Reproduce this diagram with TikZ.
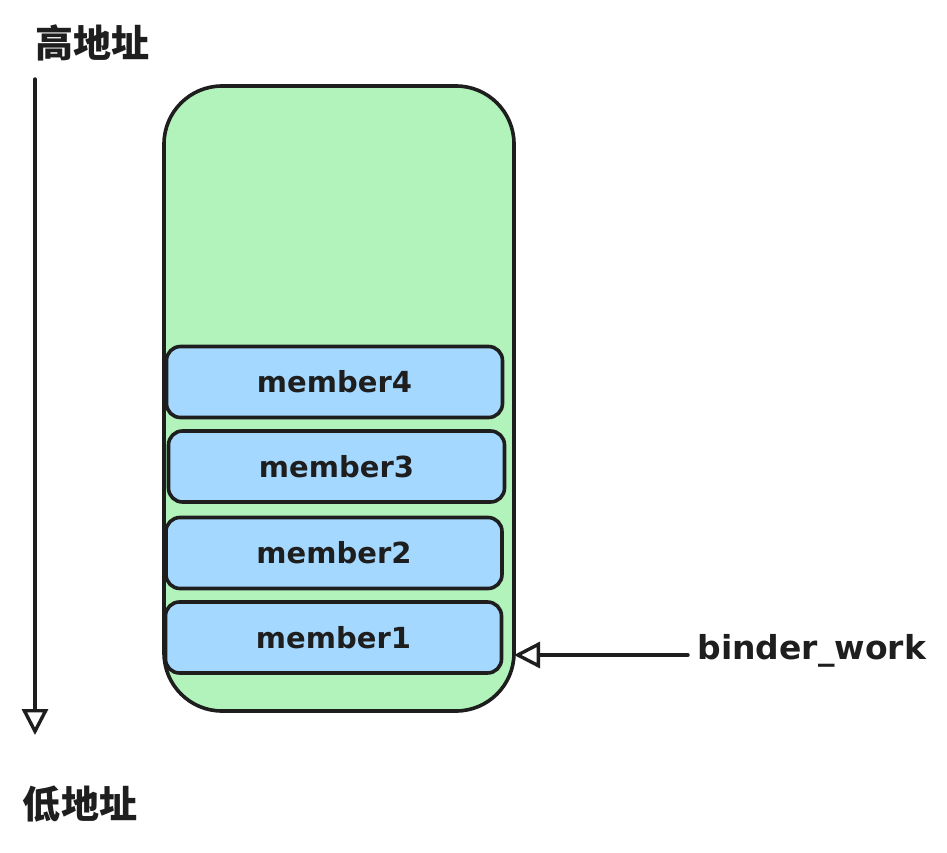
\documentclass[tikz,border=0pt]{standalone}
\usepackage{fontspec}
\setmainfont{DejaVu Sans}
\newfontfamily\cjk{Noto Sans CJK SC}
\usetikzlibrary{arrows.meta}

\definecolor{ink}{HTML}{1E1E1E}
\definecolor{frameg}{HTML}{B2F2BB}
\definecolor{memb}{HTML}{A5D8FF}

\tikzset{
  framebox/.style={draw=ink, fill=frameg, line width=3.6pt, rounded corners=58pt,
    minimum width=350pt, minimum height=625pt, inner sep=0pt},
  memberbox/.style={draw=ink, fill=memb, line width=3.6pt, rounded corners=14pt,
    minimum width=336pt, minimum height=71pt, inner sep=0pt,
    font=\bfseries\fontsize{29}{31}\selectfont, text=ink},
  addrlabel/.style={font=\cjk\bfseries\fontsize{38}{40}\selectfont, text=ink},
  openarrow/.style={draw=ink, line width=3.4pt, line cap=round,
    -{Triangle[open, length=26pt, width=26pt, fill=white]}},
}

\begin{document}
\begin{tikzpicture}[x=1pt, y=-1pt]
  \useasboundingbox (0,0) rectangle (947,853);

  % address direction
  \node[addrlabel] (hi) at (92,43) {高地址};
  \node[addrlabel] (lo) at (80,804) {低地址};
  \coordinate (atop) at (35,79);
  \coordinate (abot) at (35,735);
  \draw[openarrow] (atop) -- (abot);

  % struct frame
  \node[framebox] (frame) at (339,398.5) {};

  % members, lowest address at the bottom
  \node[memberbox] (m4) at (334.5,382) {member4};
  \node[memberbox] (m3) at (336.5,466.5) {member3};
  \node[memberbox] (m2) at (334,553) {member2};
  \node[memberbox] (m1) at (333.5,637.5) {member1};

  % pointer
  \node[anchor=west, font=\bfseries\fontsize{33}{35}\selectfont, text=ink] (bw) at (694,651) {binder\_work};
  \coordinate (bwtip) at (514,655);
  \draw[openarrow] (bw.west |- bwtip) ++(-6,0) -- (bwtip);
\end{tikzpicture}
\end{document}
